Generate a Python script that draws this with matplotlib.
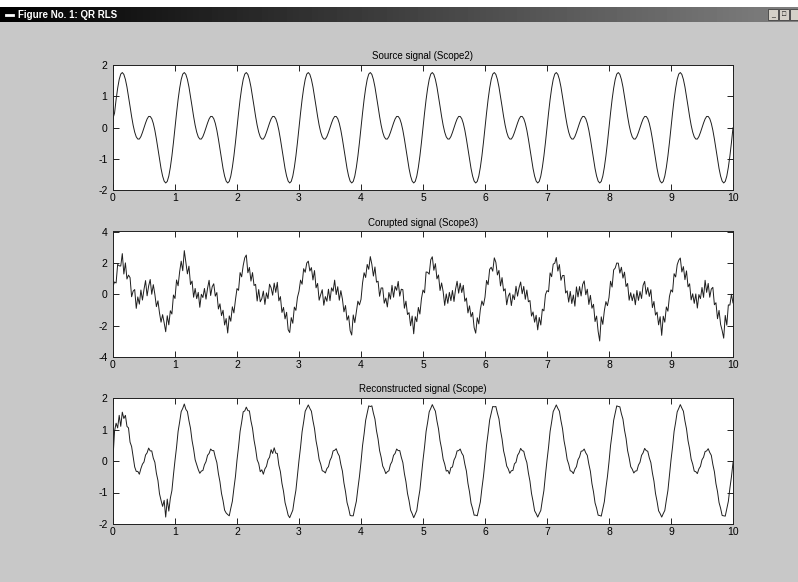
import numpy as np
import matplotlib
matplotlib.use("Agg")
import matplotlib.pyplot as plt
from matplotlib.patches import Rectangle

# one period of the source signal, read every 0.025 s
period = [0.00, 0.47, 0.90, 1.26, 1.54, 1.71, 1.76, 1.70, 1.54, 1.30,
          1.00, 0.68, 0.36, 0.08, -0.14, -0.29, -0.36, -0.36, -0.28, -0.15,
          0.00, 0.15, 0.28, 0.36, 0.36, 0.29, 0.14, -0.08, -0.36, -0.68,
          -1.00, -1.30, -1.54, -1.70, -1.76, -1.71, -1.54, -1.26, -0.90, -0.47]
n_periods = 10

# corrupted minus source, one row per second
noise = [
    0.52, 0.31, -0.18, 0.64, 0.27, 0.09, 0.83, -0.41, 0.46, -0.33, 0.22, 0.38, -0.52, 0.12, 0.44, -0.61, 0.19, -0.27, 0.55, -0.22,
    0.31, 0.72, -0.38, 0.17, 0.58, -0.29, 0.47, 0.08, -0.43, 0.26, -0.19, -0.48, 0.24, -0.12, -0.63, 0.34, -0.41, 0.21, -0.36, 0.42,
    -0.27, 0.44, -0.36, 0.18, 0.57, -0.21, 1.02, 0.33, -0.24, 0.49, -0.38, 0.16, -0.55, 0.29, -0.14, 0.41, -0.47, 0.36, 0.07, 0.52,
    -0.31, 0.23, 0.61, -0.44, 0.12, 0.38, -0.26, 0.19, -0.58, 0.07, -0.36, 0.28, -0.42, 0.15, -0.71, 0.33, -0.18, 0.46, -0.29, 0.11,
    0.36, -0.22, 0.48, -0.15, 0.29, 0.61, 0.74, -0.33, 0.17, -0.46, 0.38, -0.12, 0.27, -0.51, 0.44, -0.19, 0.08, 0.56, -0.37, 0.24,
    -0.28, 0.49, 0.13, -0.42, 0.35, -0.17, 0.62, -0.34, 0.21, -0.48, 0.16, -0.27, 0.39, -0.56, -0.68, 0.22, -0.31, 0.44, -0.13, 0.27,
    0.19, 0.43, -0.26, 0.37, -0.14, 0.28, 0.35, -0.22, 0.16, -0.39, 0.51, -0.27, 0.33, -0.46, 0.12, 0.58, -0.34, 0.21, -0.17, 0.47,
    -0.41, 0.26, -0.09, 0.54, -0.38, 0.19, -0.52, 0.31, 0.06, -0.44, 0.28, -0.35, 0.17, -0.62, -0.84, 0.39, -0.27, 0.14, 0.46, -0.21,
    -0.33, 0.25, 0.47, -0.19, 0.36, -0.12, 0.64, 0.21, -0.38, 0.44, -0.23, 0.15, -0.49, 0.32, 0.54, -0.28, 0.11, -0.45, 0.39, -0.16,
    0.57, -0.34, 0.22, -0.11, 0.46, -0.41, 0.18, 0.37, -0.53, 0.24, -0.29, 0.13, -0.47, 0.31, -0.76, 0.28, -0.21, 0.42, -0.36, 0.19,
    0.27, -0.38, 0.52, 0.14, -0.26, 0.49, 0.63, -0.17, 0.41, -0.32, 0.23, -0.44, 0.36, 0.09, -0.57, 0.31, -0.22, 0.48, -0.13, 0.39,
    -0.46, 0.17, 0.55, -0.29, 0.34, -0.18, 0.43, -0.37, 0.12, -0.51, 0.26, -0.14, 0.38, -0.43, -0.72, 0.21, -0.35, 0.29, 0.47, -0.24,
    -0.18, 0.41, -0.29, 0.33, 0.18, -0.24, 0.56, 0.34, -0.31, 0.22, -0.47, 0.38, -0.15, 0.27, -0.53, 0.16, 0.44, -0.36, 0.25, -0.19,
    0.51, -0.27, 0.14, 0.42, -0.33, 0.21, -0.46, 0.35, -0.12, 0.28, -0.39, 0.17, -0.24, 0.36, -0.51, 0.23, -0.42, 0.31, -0.16, 0.44,
    0.23, -0.31, 0.46, -0.14, 0.38, 0.27, 0.58, -0.22, 0.35, -0.41, 0.19, 0.52, -0.28, 0.14, -0.36, 0.47, -0.23, 0.31, -0.48, 0.62,
    -0.17, 0.34, -0.39, 0.26, 0.49, -0.32, 0.18, -0.57, 0.29, -0.21, 0.36, -0.44, 0.15, -0.67, -1.22, 0.27, -0.38, 0.21, 0.43, -0.26,
    -0.21, 0.36, -0.44, 0.29, 0.13, 0.28, 0.22, -0.35, 0.18, -0.27, 0.41, -0.19, 0.33, -0.46, 0.24, -0.12, 0.38, -0.31, 0.52, -0.24,
    0.17, -0.42, 0.29, 0.46, -0.36, 0.14, -0.28, 0.37, -0.49, 0.22, -0.33, 0.16, -0.41, 0.27, -0.86, 0.31, -0.24, 0.45, -0.18, 0.33,
    0.28, -0.33, 0.41, -0.16, 0.34, 0.46, 0.55, -0.28, 0.22, -0.37, 0.49, -0.21, 0.31, -0.44, 0.17, -0.29, 0.38, -0.52, 0.26, -0.13,
    0.43, -0.35, 0.61, -0.24, 0.33, -0.48, 0.19, 0.52, -0.31, 0.14, -0.56, 0.27, -0.38, -0.61, -1.04, 0.36, -0.43, 0.58, 0.21, 0.47,
]

# reconstructed minus source (adaptation transient at the start)
recon_err = [
    0.10, 0.48, 0.30, -0.21, -0.09, -0.61, -0.21, -0.35, -0.09, -0.20, 0.05, -0.08, 0.10, 0.06, -0.05, -0.04, 0.03, -0.06, 0.04, 0.05,
    -0.03, 0.04, -0.02, 0.05, -0.04, 0.03, -0.05, 0.04, -0.03, 0.06, -0.04, 0.05, 0.10, 0.45, -0.02, 0.50, -0.05, 0.08, -0.04, 0.03,
    0.02, -0.03, 0.04, -0.02, 0.03, -0.04, 0.05, -0.06, 0.03, -0.02, 0.04, -0.03, 0.02, -0.04, 0.03, 0.02, -0.03, 0.04, -0.02, 0.03,
    -0.02, 0.03, -0.04, 0.02, -0.03, 0.04, -0.02, 0.03, -0.04, 0.02, -0.03, 0.04, -0.02, 0.05, 0.06, -0.03, 0.04, -0.02, 0.03, -0.02,
    0.03, -0.02, 0.04, -0.03, 0.02, -0.12, -0.05, -0.10, 0.05, -0.03, 0.04, -0.02, 0.03, -0.04, 0.06, -0.05, 0.08, -0.06, 0.03, -0.02,
    0.04, -0.03, 0.08, -0.12, 0.06, -0.04, 0.10, -0.05, 0.02, -0.03, 0.04, -0.02, 0.03, -0.02, -0.04, 0.03, -0.02, 0.04, -0.03, 0.02,
    0.02, -0.03, 0.03, -0.02, 0.04, -0.03, 0.02, -0.03, 0.04, -0.02, 0.03, -0.04, 0.02, -0.03, 0.04, -0.02, 0.03, -0.02, 0.04, -0.03,
    0.02, -0.03, 0.04, -0.02, 0.03, -0.04, 0.02, -0.03, 0.04, -0.02, 0.03, -0.02, 0.04, -0.03, 0.02, -0.03, 0.04, -0.02, 0.03, -0.02,
    -0.03, 0.02, -0.04, 0.03, -0.02, 0.04, -0.03, 0.05, -0.02, 0.03, -0.04, 0.02, -0.03, 0.04, -0.02, 0.03, -0.04, 0.02, -0.03, 0.04,
    -0.02, 0.03, -0.04, 0.02, -0.03, 0.04, -0.02, 0.03, -0.04, 0.02, -0.03, 0.04, -0.02, 0.03, -0.04, 0.02, -0.03, 0.04, -0.02, 0.03,
    0.03, -0.02, 0.04, -0.03, 0.02, -0.04, 0.03, -0.02, 0.04, -0.03, 0.02, -0.04, 0.03, -0.02, 0.04, -0.03, 0.06, -0.05, 0.07, -0.04,
    0.03, -0.02, 0.04, -0.03, 0.02, -0.04, 0.03, -0.02, 0.04, -0.03, 0.02, -0.04, 0.03, -0.02, 0.04, -0.03, 0.02, -0.04, 0.03, -0.02,
    -0.02, 0.03, -0.02, 0.04, -0.03, 0.02, -0.04, 0.03, -0.02, 0.04, -0.03, 0.02, -0.04, 0.03, -0.02, 0.04, -0.03, 0.05, -0.02, 0.06,
    -0.04, 0.03, -0.02, 0.04, -0.03, 0.02, -0.04, 0.03, -0.02, 0.04, -0.03, 0.02, -0.04, 0.03, -0.02, 0.04, -0.03, 0.02, -0.04, 0.03,
    0.02, -0.03, 0.04, -0.02, 0.03, -0.04, 0.02, -0.03, 0.04, -0.02, 0.03, -0.04, 0.02, -0.03, 0.04, -0.02, 0.03, -0.04, 0.02, -0.03,
    0.04, -0.02, 0.03, -0.04, 0.02, -0.03, 0.04, -0.02, 0.03, -0.04, 0.02, -0.03, 0.04, -0.02, 0.03, -0.04, 0.02, -0.03, 0.04, -0.02,
    -0.03, 0.02, -0.04, 0.03, -0.02, 0.04, -0.03, 0.02, -0.04, 0.03, -0.02, 0.04, -0.03, 0.02, -0.04, 0.03, -0.02, 0.04, -0.03, 0.02,
    -0.04, 0.03, -0.02, 0.04, -0.03, 0.02, -0.04, 0.03, -0.02, 0.04, -0.03, 0.02, -0.04, 0.03, -0.02, 0.04, -0.03, 0.02, -0.04, 0.03,
    0.03, -0.02, 0.04, -0.03, 0.02, -0.04, 0.03, -0.02, 0.04, -0.03, 0.02, -0.04, 0.03, -0.02, 0.04, -0.03, 0.02, -0.04, 0.03, -0.02,
    0.04, -0.03, 0.02, -0.04, 0.03, -0.02, 0.04, -0.03, 0.02, -0.04, 0.03, -0.02, 0.04, -0.03, 0.02, -0.04, 0.03, -0.02, 0.04, -0.03,
]

titles = ["Source signal (Scope2)", "Corupted signal (Scope3)", "Reconstructed signal (Scope)"]
ylims = [(-2, 2), (-4, 4), (-2, 2)]
yticks = [[-2, -1, 0, 1, 2], [-4, -2, 0, 2, 4], [-2, -1, 0, 1, 2]]
xticks = list(range(0, 11))
window_title = "Figure No. 1: QR RLS"

# build the series
dt = 1.0 / len(period)
t = np.arange(len(period) * n_periods + 1) * dt
source = np.append(np.tile(period, n_periods), period[0])
corrupted = source + np.append(noise, -0.55)
recon = source + np.append(recon_err, -0.05)
source[0] = 0.3
series = [source, corrupted, recon]

plt.rcParams['font.family'] = ['Liberation Sans', 'DejaVu Sans']
plt.rcParams['axes.unicode_minus'] = False
bg = '#c8c8c8'
fig = plt.figure(figsize=(7.98, 5.82), dpi=100, facecolor=bg)
W, H = 798.0, 582.0

# window decoration: white strip + dark title bar with gradient
fig.patches.append(Rectangle((0, 1 - 7 / H), 1, 7 / H, transform=fig.transFigure,
                             facecolor='white', edgecolor='none'))
bar = fig.add_axes([0, 1 - 22 / H, 1, 15 / H])
grad = np.linspace(0.0, 0.5, 256).reshape(1, -1)
bar.imshow(grad, aspect='auto', cmap='gray', vmin=0, vmax=1, extent=(0, 1, 0, 1))
bar.set_axis_off()
bar.text(0.022, 0.5, window_title, color='white', fontsize=7, fontweight='bold',
         va='center', ha='left', transform=bar.transAxes)
bar.plot([0.008, 0.016], [0.5, 0.5], color='white', lw=2, transform=bar.transAxes)
for k, sym in enumerate(['_', '\u25A1', '']):
    x0 = (768 + k * 11) / W
    fig.patches.append(Rectangle((x0, 1 - 20 / H), 10 / W, 11 / H, transform=fig.transFigure,
                                 facecolor='#d4d0c8', edgecolor='#404040', lw=0.6))
    fig.text(x0 + 5 / W, 1 - 15 / H, sym, fontsize=5, ha='center', va='center')

# axes boxes (pixel coords from the screenshot)
boxes = [(113, 65, 733, 190.5), (113, 231.5, 733, 357), (113, 398, 733, 524)]

for (x0, y0, x1, y1), ttl, yl, yt, y in zip(boxes, titles, ylims, yticks, series):
    ax = fig.add_axes([x0 / W, 1 - y1 / H, (x1 - x0) / W, (y1 - y0) / H])
    ax.plot(t, y, color='#1e1e1e', lw=0.7)
    ax.set_xlim(0, 10)
    ax.set_ylim(*yl)
    ax.set_xticks(xticks)
    ax.set_yticks(yt)
    ax.set_facecolor('white')
    ax.tick_params(direction='in', length=4, width=0.6, top=True, right=True,
                   labelsize=7.5, colors='black')
    ax.tick_params(axis='y', pad=4)
    ax.tick_params(axis='x', pad=2)
    for s in ax.spines.values():
        s.set_linewidth(0.7)
        s.set_color('#202020')
    ax.set_title(ttl, fontsize=7, pad=4)

fig.savefig('out.png', dpi=100, facecolor=bg)
